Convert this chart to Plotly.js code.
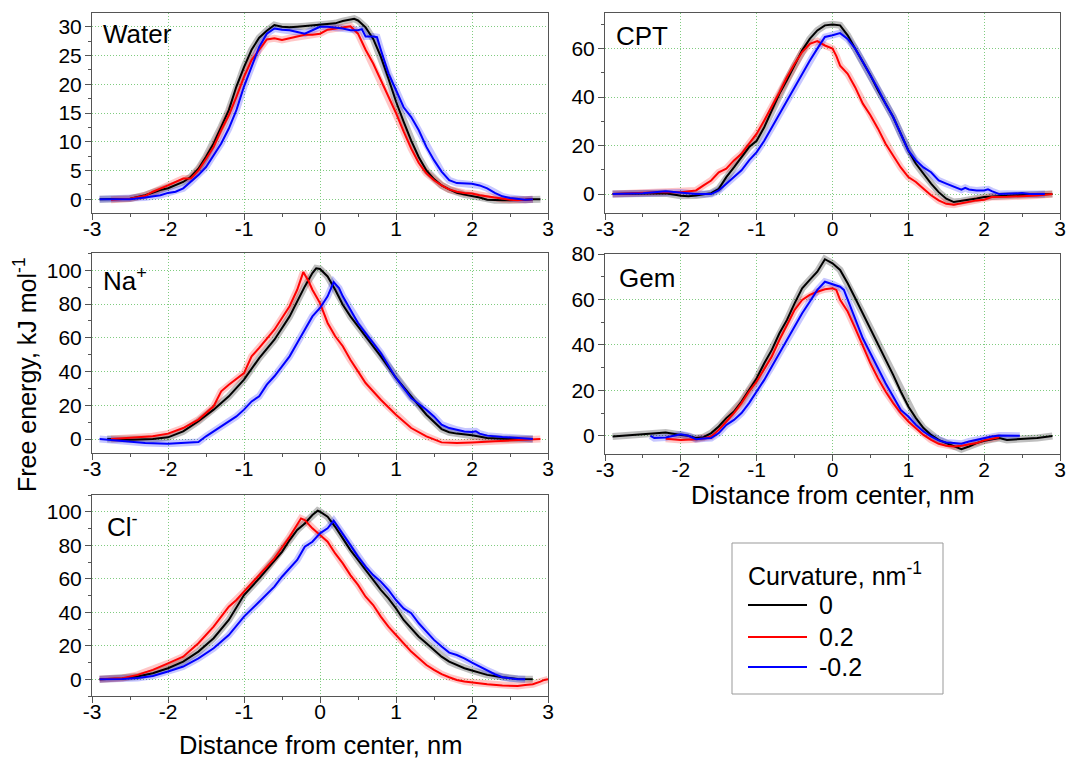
<!DOCTYPE html>
<html>
<head>
<meta charset="utf-8">
<script src="https://cdn.plot.ly/plotly-3.0.1.min.js"></script>
<style>html,body{margin:0;padding:0;background:#fff;}#chart{width:1067px;height:758px;}</style>
</head>
<body>
<div id="chart"></div>
<script>
// ---------- DATA ----------
var curvatureLabels = ['0', '0.2', '-0.2'];
var legendTitle = 'Curvature, nm<sup>-1</sup>';
var panelNames = ['Water', 'CPT', 'Na<sup>+</sup>', 'Gem', 'Cl<sup>-</sup>'];
var xTickVals = [-3, -2, -1, 0, 1, 2, 3];
var xTickText = ['-3', '-2', '-1', '0', '1', '2', '3'];

// Water
var waterX0 = [-2.9,-2.7,-2.5,-2.3,-2.1,-2.0,-1.9,-1.8,-1.7,-1.6,-1.5,-1.4,-1.3,-1.2,-1.1,-1.0,-0.9,-0.8,-0.7,-0.6,-0.5,-0.4,-0.3,-0.2,-0.1,0,0.1,0.2,0.3,0.4,0.45,0.5,0.6,0.7,0.8,0.9,1.0,1.1,1.2,1.3,1.4,1.5,1.6,1.7,1.8,1.9,2.0,2.1,2.2,2.3,2.4,2.5,2.6,2.7,2.8,2.9];
var waterY0 = [0,0,0.1,0.7,1.6,1.9,2.4,3.0,3.9,5.3,7.4,9.7,12.6,15.5,19.6,23.0,26.0,28.1,29.3,30.3,30.0,29.9,30.0,30.1,30.2,30.4,30.5,30.6,31.0,31.3,31.4,31.1,29.9,27.9,24.8,21.0,17.0,13.5,10.2,7.3,5.0,3.5,2.4,1.7,1.1,0.8,0.6,0.3,-0.1,-0.2,-0.2,-0.2,-0.2,-0.1,0,0];
var waterX1 = [-2.75,-2.5,-2.3,-2.2,-2.0,-1.9,-1.8,-1.7,-1.6,-1.5,-1.4,-1.3,-1.2,-1.1,-1.0,-0.9,-0.8,-0.7,-0.6,-0.5,-0.4,-0.3,-0.2,-0.1,0,0.1,0.2,0.3,0.4,0.5,0.6,0.7,0.8,0.9,1.0,1.1,1.2,1.3,1.4,1.5,1.6,1.7,1.8,1.9,2.0,2.1,2.2,2.3,2.4,2.5,2.6,2.7,2.8];
var waterY1 = [-0.1,0.1,0.6,1.3,2.4,3.0,3.6,3.6,5.0,7.0,9.1,12.0,14.6,17.8,21.3,24.2,26.0,27.8,28.0,27.7,28.0,28.3,28.6,28.6,28.8,29.5,29.7,29.8,30.1,28.8,26.0,23.6,20.7,18.0,15.0,11.8,8.8,6.3,4.5,3.3,2.4,1.7,1.3,1.1,1.0,0.7,0.5,0.3,0.0,-0.1,-0.2,-0.1,0];
var waterX2 = [-2.9,-2.5,-2.3,-2.1,-2.0,-1.9,-1.8,-1.7,-1.6,-1.5,-1.4,-1.3,-1.2,-1.1,-1.0,-0.9,-0.8,-0.7,-0.6,-0.5,-0.4,-0.3,-0.2,-0.1,0,0.1,0.2,0.3,0.4,0.5,0.55,0.6,0.7,0.75,0.8,0.9,1.0,1.1,1.2,1.3,1.4,1.5,1.6,1.7,1.8,1.9,2.0,2.1,2.2,2.3,2.4,2.5,2.6,2.7,2.8];
var waterY2 = [0,0,0.3,0.7,1.1,1.3,1.9,3.0,4.2,5.6,7.7,9.7,12.3,15.5,19.6,23.0,26.5,28.8,29.7,29.5,29.4,29.1,28.8,29.4,30.0,30.0,29.9,29.7,29.4,29.4,29.6,28.3,28.3,28.2,26.0,21.9,19.0,16.0,14.3,12.0,9.1,6.8,4.8,3.3,2.8,2.7,2.7,2.4,1.9,1.1,0.5,0.2,0,-0.1,0];

// CPT
var cptX0 = [-2.9,-2.6,-2.3,-2.2,-2.0,-1.9,-1.8,-1.7,-1.6,-1.5,-1.4,-1.3,-1.2,-1.1,-1.0,-0.9,-0.8,-0.7,-0.6,-0.5,-0.4,-0.3,-0.2,-0.1,0,0.1,0.2,0.3,0.4,0.5,0.6,0.7,0.8,0.9,1.0,1.1,1.2,1.3,1.4,1.5,1.6,1.7,1.8,1.9,2.0,2.1,2.2,2.4,2.6,2.8,2.9];
var cptY0 = [0,0.2,0.5,0.3,-0.7,-0.9,-0.6,-0.2,0.4,2.2,7.0,11.0,15.3,19.4,22.0,27.6,34.5,41.4,47.0,53.0,59.3,64.0,67.5,69.6,70.0,69.6,65.5,60.0,54.5,49.0,42.8,37.3,31.8,24.9,18.0,12.5,8.4,4.3,0.8,-1.9,-3.3,-2.9,-2.2,-1.8,-1.2,-1.0,-0.7,-0.5,-0.3,0,0];
var cptX1 = [-2.9,-2.5,-2.3,-2.0,-1.8,-1.7,-1.6,-1.5,-1.4,-1.3,-1.2,-1.1,-1.0,-0.9,-0.8,-0.7,-0.6,-0.5,-0.4,-0.3,-0.2,-0.1,0,0.05,0.1,0.2,0.3,0.4,0.5,0.6,0.7,0.8,0.9,1.0,1.1,1.2,1.3,1.4,1.5,1.6,1.7,1.8,1.9,2.0,2.1,2.3,2.5,2.7,2.9];
var cptY1 = [0,0.5,0.8,0.8,1.5,3.6,5.6,9.0,10.5,13.9,16.6,20.8,24.9,30.4,35.9,42.0,48.3,53.8,58.6,62.0,63.1,61.3,60.0,57.0,53.0,49.6,44.0,37.3,32.5,27.0,20.8,16.0,11.0,7.0,5.0,2.2,-0.5,-2.6,-4.0,-4.4,-3.7,-3.0,-2.6,-2.3,-1.2,-1.1,-1.0,-0.6,0];
var cptX2 = [-2.9,-2.5,-2.2,-2.0,-1.8,-1.6,-1.5,-1.4,-1.3,-1.2,-1.1,-1.0,-0.9,-0.8,-0.7,-0.6,-0.5,-0.4,-0.3,-0.2,-0.1,0,0.1,0.2,0.3,0.4,0.5,0.6,0.7,0.8,0.9,1.0,1.1,1.2,1.3,1.4,1.5,1.6,1.7,1.75,1.8,1.9,2.0,2.05,2.1,2.2,2.3,2.5,2.6,2.8];
var cptY2 = [0,0.3,1.2,0.7,0,0,1.5,4.3,7.0,9.8,13.9,17.3,22.0,27.6,33.0,38.7,44.0,49.7,55.0,60.0,64.8,65.5,66.4,64.0,60.0,54.5,49.0,43.5,37.3,31.8,24.9,18.0,13.9,11.0,9.0,5.6,4.3,2.9,1.8,2.6,1.9,1.5,1.5,2.0,1.2,0,0.1,0.4,0,0];

// Na+
var naX0 = [-2.8,-2.5,-2.2,-2.0,-1.8,-1.6,-1.4,-1.2,-1.0,-0.8,-0.6,-0.4,-0.2,-0.1,-0.05,0,0.1,0.2,0.3,0.4,0.5,0.6,0.8,1.0,1.2,1.4,1.6,1.7,1.8,2.0,2.2,2.4,2.6,2.8];
var naY0 = [0,-0.4,0,1.0,4.5,10.5,17.4,25.3,35.2,48.0,58.9,72.7,90.5,98.4,101.2,100.8,96.4,88.5,79.6,72.7,66.8,60.9,49.0,36.2,25.3,14.4,5.9,4.0,3.2,2.2,0.6,0,-0.2,0];
var naX1 = [-2.75,-2.5,-2.2,-2.0,-1.8,-1.6,-1.4,-1.3,-1.2,-1.0,-0.9,-0.8,-0.6,-0.4,-0.3,-0.22,-0.15,-0.1,0,0.1,0.2,0.3,0.4,0.5,0.6,0.8,1.0,1.2,1.4,1.6,1.8,2.0,2.2,2.4,2.6,2.8,2.9];
var naY1 = [0,0.6,1.6,3.2,6.5,11.5,19.4,28.3,32.2,39.1,49.0,54.0,64.8,78.7,88.5,99.0,93.5,88.5,80.6,68.8,60.9,55.0,47.0,40.1,33.2,23.3,14.4,6.5,1.6,-2.0,-2.4,-2.0,-1.6,-1.4,-0.8,-0.2,0];
var naX2 = [-2.9,-2.6,-2.3,-2.0,-1.8,-1.6,-1.5,-1.4,-1.3,-1.2,-1.1,-1.0,-0.9,-0.8,-0.7,-0.6,-0.5,-0.4,-0.3,-0.2,-0.1,0,0.1,0.18,0.25,0.3,0.4,0.5,0.6,0.8,1.0,1.2,1.4,1.5,1.6,1.7,1.8,1.9,2.0,2.05,2.1,2.2,2.4,2.6,2.8];
var naY2 = [0,-1.4,-2.4,-2.8,-2.4,-1.8,1.6,4.5,7.5,10.5,13.4,17.4,22.3,25.3,32.2,37.2,43.1,49.0,56.9,64.8,72.7,77.7,84.6,93.0,89.5,84.6,76.7,68.8,62.8,51.0,36.2,24.3,17.4,13.4,8.5,6.5,5.5,4.5,4.2,4.6,3.2,2.0,1.2,0.6,0];

// Gem
var gemX0 = [-2.9,-2.6,-2.4,-2.2,-2.0,-1.9,-1.8,-1.7,-1.6,-1.5,-1.4,-1.3,-1.2,-1.1,-1.0,-0.9,-0.8,-0.7,-0.6,-0.5,-0.4,-0.3,-0.2,-0.1,0,0.1,0.2,0.3,0.4,0.5,0.6,0.7,0.8,0.9,1.0,1.1,1.2,1.3,1.4,1.5,1.6,1.7,1.8,1.9,2.0,2.1,2.2,2.3,2.5,2.7,2.9];
var gemY0 = [-0.3,0.4,0.9,1.5,0.4,0,-1.0,-0.6,1.2,4.1,7.8,10.7,15.1,20.2,25.3,31.9,37.8,45.1,51.0,58.3,64.9,68.6,72.2,77.7,75.9,73.0,67.1,60.5,53.9,47.3,40.7,33.4,26.8,19.5,12.9,7.8,3.4,0.4,-1.8,-3.2,-4.4,-5.9,-4.7,-3.2,-2.2,-1.5,-1.0,-1.8,-1.5,-1.0,-0.1];
var gemX1 = [-2.2,-2.0,-1.8,-1.7,-1.6,-1.5,-1.4,-1.3,-1.2,-1.1,-1.0,-0.9,-0.8,-0.7,-0.6,-0.5,-0.4,-0.3,-0.2,-0.1,0,0.05,0.1,0.2,0.3,0.4,0.5,0.6,0.7,0.8,0.9,1.0,1.1,1.2,1.3,1.4,1.5,1.6,1.7,1.8,1.9,2.0,2.1,2.2];
var gemY1 = [-1.3,-1.8,-1.5,-1.2,-0.3,2.6,6.3,10.0,14.4,19.5,23.9,29.7,34.9,42.2,48.8,55.4,59.8,62.0,63.4,64.5,64.9,64.2,59.8,54.7,47.3,39.3,31.9,25.3,19.5,14.4,10.0,6.3,3.4,0.4,-1.8,-3.5,-4.4,-4.7,-4.4,-3.8,-3.2,-2.0,-1.2,-0.6];
var gemX2 = [-2.4,-2.35,-2.2,-2.1,-2.0,-1.9,-1.8,-1.7,-1.6,-1.5,-1.4,-1.3,-1.2,-1.1,-1.0,-0.9,-0.8,-0.7,-0.6,-0.5,-0.4,-0.3,-0.2,-0.1,0,0.1,0.15,0.2,0.3,0.4,0.5,0.6,0.7,0.8,0.9,1.0,1.1,1.2,1.3,1.4,1.5,1.6,1.7,1.8,1.9,2.0,2.1,2.2,2.3,2.47];
var gemY2 = [0,-1.0,-0.7,0,0.7,0,-1.5,-1.2,-1.0,1.2,4.8,7.0,10.0,14.4,19.5,24.6,30.5,36.3,42.2,48.1,53.9,59.0,64.2,67.8,66.8,65.6,64.2,59.8,51.0,42.9,36.3,29.7,23.1,17.3,11.4,8.5,4.8,1.9,-0.3,-2.0,-2.9,-3.2,-3.5,-2.5,-1.8,-0.9,-0.3,0.1,0.1,0];

// Cl-
var clX0 = [-2.9,-2.6,-2.4,-2.2,-2.0,-1.8,-1.6,-1.4,-1.2,-1.0,-0.8,-0.6,-0.5,-0.4,-0.3,-0.2,-0.1,-0.03,0,0.1,0.2,0.3,0.4,0.5,0.6,0.7,0.8,0.9,1.0,1.1,1.2,1.3,1.4,1.5,1.6,1.7,1.8,1.9,2.0,2.2,2.4,2.6,2.8];
var clY0 = [0,0.4,1.6,3.6,6.6,10.5,16.5,24.5,35.4,50.3,60.2,71.2,76.1,83.1,89.1,93.0,98.0,100.6,100.0,97.0,91.0,84.1,77.1,71.2,65.2,59.2,53.3,48.3,42.3,35.4,30.4,25.4,21.5,17.5,13.5,10.5,8.5,6.6,5.2,2.6,1.2,0.2,0];
var clX1 = [-2.9,-2.6,-2.4,-2.2,-2.0,-1.9,-1.8,-1.6,-1.4,-1.2,-1.1,-1.0,-0.8,-0.6,-0.4,-0.3,-0.25,-0.2,-0.1,0,0.1,0.2,0.3,0.4,0.5,0.6,0.7,0.8,0.9,1.0,1.1,1.2,1.3,1.4,1.5,1.6,1.7,1.8,1.9,2.0,2.2,2.4,2.6,2.7,2.8,2.9,2.95,3.0];
var clY1 = [0,0.6,2.6,5.6,9.5,11.5,13.5,21.5,31.4,43.3,47.3,52.3,62.2,72.2,85.1,92.0,96.0,95.0,90.1,86.1,82.1,75.1,69.2,62.2,56.3,49.3,44.3,37.4,31.4,26.4,21.5,16.5,12.5,8.5,5.6,3.0,1.2,-0.4,-1.4,-2.0,-3.0,-3.8,-4.0,-3.4,-3.0,-1.4,-0.4,0];
var clX2 = [-2.9,-2.6,-2.4,-2.2,-2.0,-1.8,-1.6,-1.4,-1.2,-1.0,-0.8,-0.6,-0.5,-0.4,-0.3,-0.2,-0.1,0,0.1,0.18,0.25,0.3,0.4,0.5,0.6,0.7,0.8,0.9,1.0,1.1,1.2,1.3,1.4,1.5,1.6,1.7,1.8,1.9,2.0,2.1,2.2,2.3,2.4,2.5,2.6,2.7];
var clY2 = [0,0.2,0.8,2.0,4.6,7.6,12.5,18.5,26.4,37.4,46.3,55.3,61.2,66.2,71.2,79.1,82.1,87.1,90.1,94.6,90.1,87.1,80.1,73.2,67.2,62.2,58.3,53.3,47.3,42.3,39.4,33.4,28.4,23.5,19.5,15.9,14.5,12.5,9.9,7.6,5.2,3.0,1.2,0.4,0,0];

// ---------- STYLE ----------
var lineColors = ['#000000', '#ff0000', '#0000ff'];
var bandColors = ['rgba(0,0,0,0.25)', 'rgba(255,0,0,0.22)', 'rgba(0,0,255,0.22)'];
var FONT = 'Liberation Sans, Arial, sans-serif';
var W = 1067, H = 758;
function px(v) { return v / W; }
function py(v) { return 1 - v / H; }

var panelData = [
  {xs: [waterX0, waterX1, waterX2], ys: [waterY0, waterY1, waterY2], ax: ''},
  {xs: [cptX0, cptX1, cptX2], ys: [cptY0, cptY1, cptY2], ax: '2'},
  {xs: [naX0, naX1, naX2], ys: [naY0, naY1, naY2], ax: '3'},
  {xs: [gemX0, gemX1, gemX2], ys: [gemY0, gemY1, gemY2], ax: '4'},
  {xs: [clX0, clX1, clX2], ys: [clY0, clY1, clY2], ax: '5'}
];

var traces = [];
panelData.forEach(function (p) {
  for (var s = 0; s < 3; s++) {
    traces.push({
      x: p.xs[s], y: p.ys[s], type: 'scatter', mode: 'lines',
      xaxis: 'x' + p.ax, yaxis: 'y' + p.ax,
      line: {color: bandColors[s], width: 7},
      showlegend: false, hoverinfo: 'skip'
    });
  }
});
panelData.forEach(function (p) {
  for (var s = 0; s < 3; s++) {
    traces.push({
      x: p.xs[s], y: p.ys[s], type: 'scatter', mode: 'lines',
      xaxis: 'x' + p.ax, yaxis: 'y' + p.ax,
      name: curvatureLabels[s],
      line: {color: lineColors[s], width: 2},
      showlegend: false
    });
  }
});

var GRID = '#80cc80';
var AXC = '#555';
function xAxis(domain, anchor) {
  return {
    domain: domain, anchor: anchor, range: [-3, 3],
    tickvals: xTickVals, ticktext: xTickText,
    ticks: 'outside', ticklen: 6, tickwidth: 1, tickcolor: AXC,
    ticklabelstandoff: -9,
    minor: {dtick: 0.5, ticks: 'outside', ticklen: 3, tickcolor: AXC, showgrid: false},
    showline: true, linecolor: AXC, linewidth: 1, mirror: true,
    showgrid: true, gridcolor: GRID, griddash: '1px,2px', gridwidth: 1,
    zeroline: false, automargin: false,
    tickfont: {family: FONT, size: 21, color: '#000'}
  };
}
function yAxis(domain, anchor, range, dtick) {
  return {
    domain: domain, anchor: anchor, range: range,
    tick0: 0, dtick: dtick,
    ticks: 'outside', ticklen: 6, tickwidth: 1, tickcolor: AXC,
    ticklabelstandoff: -1,
    minor: {dtick: dtick / 2, ticks: 'outside', ticklen: 3, tickcolor: AXC, showgrid: false},
    showline: true, linecolor: AXC, linewidth: 1, mirror: true,
    showgrid: true, gridcolor: GRID, griddash: '1px,2px', gridwidth: 1,
    zeroline: false, automargin: false,
    tickfont: {family: FONT, size: 21, color: '#000'}
  };
}

var L = [px(92), px(548)], R = [px(605), px(1060)];
var rowTop = [py(213), py(13)], rowMid = [py(453), py(253)], rowBot = [py(696), py(495)];
var rowMidR = [py(454), py(254)];

var annotations = [];
var labelPos = [[101, 34], [614, 36], [101, 279], [617, 278], [105, 525]];
panelNames.forEach(function (n, i) {
  annotations.push({
    text: n, xref: 'paper', yref: 'paper',
    x: px(labelPos[i][0]), y: py(labelPos[i][1]),
    xanchor: 'left', yanchor: 'middle', showarrow: false,
    font: {family: FONT, size: 26, color: '#000'}
  });
});
annotations.push({
  text: 'Free energy, kJ mol<sup>-1</sup>', xref: 'paper', yref: 'paper',
  x: px(25), y: py(375), xanchor: 'center', yanchor: 'middle',
  textangle: -90, showarrow: false,
  font: {family: FONT, size: 25, color: '#000'}
});
// x-axis titles
[[320, 745], [832, 495]].forEach(function (p) {
  annotations.push({
    text: 'Distance from center, nm', xref: 'paper', yref: 'paper',
    x: px(p[0]), y: py(p[1]), xanchor: 'center', yanchor: 'middle', showarrow: false,
    font: {family: FONT, size: 25.5, color: '#000'}
  });
});

// legend (drawn box, title, sample lines and labels)
var shapes = [{
  type: 'rect', xref: 'paper', yref: 'paper',
  x0: px(732), x1: px(943), y0: py(694), y1: py(543),
  line: {color: '#999', width: 1}, fillcolor: 'rgba(0,0,0,0)'
}];
annotations.push({
  text: legendTitle, xref: 'paper', yref: 'paper',
  x: px(746), y: py(574), xanchor: 'left', yanchor: 'middle', showarrow: false,
  font: {family: FONT, size: 25, color: '#000'}
});
var legendRows = [605, 637, 667];
curvatureLabels.forEach(function (lab, i) {
  shapes.push({
    type: 'line', xref: 'paper', yref: 'paper',
    x0: px(748), x1: px(807), y0: py(legendRows[i]), y1: py(legendRows[i]),
    line: {color: lineColors[i], width: 2}
  });
  annotations.push({
    text: lab, xref: 'paper', yref: 'paper',
    x: px(817), y: py(legendRows[i]), xanchor: 'left', yanchor: 'middle', showarrow: false,
    font: {family: FONT, size: 25, color: '#000'}
  });
});

var layout = {
  width: W, height: H,
  margin: {l: 0, r: 0, t: 0, b: 0},
  paper_bgcolor: '#fff', plot_bgcolor: '#fff',
  font: {family: FONT, color: '#000'},
  showlegend: false,
  xaxis: xAxis(L, 'y'), yaxis: yAxis(rowTop, 'x', [-2.4, 32.4], 5),
  xaxis2: xAxis(R, 'y2'), yaxis2: yAxis(rowTop, 'x2', [-7.8, 74.7], 20),
  xaxis3: xAxis(L, 'y3'), yaxis3: yAxis(rowMid, 'x3', [-8.3, 110.3], 20),
  xaxis4: xAxis(R, 'y4'), yaxis4: yAxis(rowMidR, 'x4', [-8, 80], 20),
  xaxis5: xAxis(L, 'y5'), yaxis5: yAxis(rowBot, 'x5', [-10, 110], 20),
  annotations: annotations,
  shapes: shapes
};

Plotly.newPlot('chart', traces, layout, {displayModeBar: false, staticPlot: true});
</script>
</body>
</html>
